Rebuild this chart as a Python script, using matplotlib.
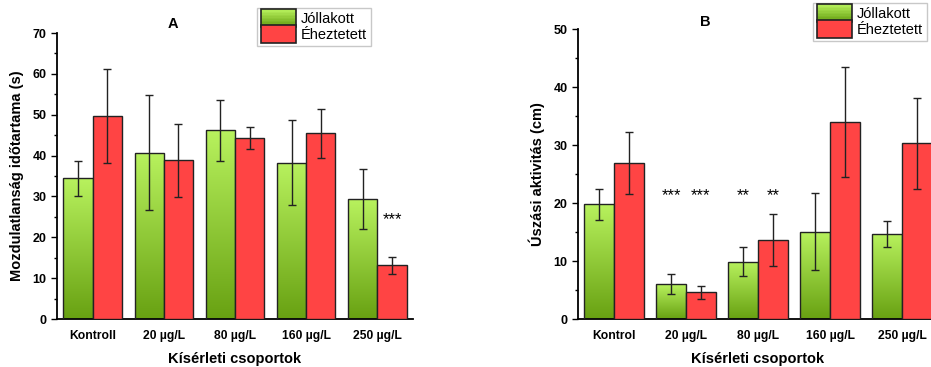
import matplotlib
matplotlib.use("Agg")
import matplotlib.pyplot as plt
import numpy as np
from matplotlib.colors import LinearSegmentedColormap
from matplotlib.patches import Rectangle
from matplotlib.legend_handler import HandlerBase
from matplotlib.ticker import MultipleLocator

plt.rcParams['font.family'] = ['Liberation Sans', 'DejaVu Sans']

series_names = ["Jóllakott", "Éheztetett"]

cats_a = ["Kontroll", "20 µg/L", "80 µg/L", "160 µg/L", "250 µg/L"]
fed_a = [34.4, 40.7, 46.2, 38.3, 29.3]
fed_a_err = [4.2, 14.1, 7.5, 10.4, 7.3]
starved_a = [49.7, 38.8, 44.4, 45.5, 13.1]
starved_a_err = [11.6, 9.0, 2.7, 6.0, 2.0]
stars_a = ["", "", "", "", "***"]          # over starved bars

cats_b = ["Kontrol", "20 µg/L", "80 µg/L", "160 µg/L", "250 µg/L"]
fed_b = [19.8, 6.0, 9.9, 15.1, 14.7]
fed_b_err = [2.7, 1.7, 2.5, 6.6, 2.2]
starved_b = [26.9, 4.6, 13.6, 34.0, 30.3]
starved_b_err = [5.3, 1.15, 4.5, 9.5, 7.9]
stars_b_fed = ["", "***", "**", "", ""]
stars_b_starved = ["", "***", "**", "", ""]

GREEN_TOP = "#b8f25e"
GREEN_BOT = "#68a112"
RED = "#ff4444"
gcmap = LinearSegmentedColormap.from_list("g", [GREEN_BOT, GREEN_TOP])

W = 0.41


def grad_bars(ax, x, h):
    bars = ax.bar(x, h, W, align="edge", facecolor="none", edgecolor="#222222",
                  linewidth=1.0, zorder=3)
    grad = np.linspace(0, 1, 256).reshape(-1, 1)
    for b in bars:
        x0, y0 = b.get_x(), b.get_y()
        w, hh = b.get_width(), b.get_height()
        im = ax.imshow(grad, cmap=gcmap, origin="lower", aspect="auto",
                       extent=(x0, x0 + w, y0, y0 + hh), zorder=2)
        im.set_clip_path(b)
    return bars


class GradHandler(HandlerBase):
    def create_artists(self, legend, orig_handle, xdescent, ydescent, width,
                       height, fontsize, trans):
        arts = []
        n = 12
        h = height + 4
        y0 = -ydescent - 2
        for i in range(n):
            c = gcmap(1 - i / (n - 1))
            r = Rectangle((-xdescent, y0 + h - (i + 1) * h / n), width, h / n,
                          facecolor=c, edgecolor="none", transform=trans)
            arts.append(r)
        arts.append(Rectangle((-xdescent, y0), width, h, facecolor="none",
                              edgecolor="#222222", linewidth=1.2, transform=trans))
        return arts


class RedHandler(HandlerBase):
    def create_artists(self, legend, orig_handle, xdescent, ydescent, width,
                       height, fontsize, trans):
        h = height + 4
        y0 = -ydescent - 2
        return [Rectangle((-xdescent, y0), width, h, facecolor=RED,
                          edgecolor="#222222", linewidth=1.2, transform=trans)]


def panel(ax, cats, fed, fed_err, st, st_err, ymax, ylabel, xlim_right):
    x = np.arange(len(cats))
    grad_bars(ax, x - W, fed)
    ax.bar(x, st, W, align="edge", color=RED, edgecolor="#222222",
           linewidth=1.0, zorder=3)
    ax.errorbar(x - W / 2, fed, yerr=fed_err, fmt="none", ecolor="#222222",
                elinewidth=1.0, capsize=2.6, capthick=1.0, zorder=4)
    ax.errorbar(x + W / 2, st, yerr=st_err, fmt="none", ecolor="#222222",
                elinewidth=1.0, capsize=2.6, capthick=1.0, zorder=4)
    ax.set_xlim(-0.5, xlim_right)
    ax.set_ylim(0, ymax)
    ax.set_xticks(x)
    ax.set_xticklabels(cats, fontsize=8.7, fontweight="bold")
    ax.tick_params(axis="x", length=0, pad=8)
    ax.yaxis.set_major_locator(MultipleLocator(10))
    ax.yaxis.set_minor_locator(MultipleLocator(5))
    ax.tick_params(axis="y", which="major", length=4, width=1.0, labelsize=9)
    ax.tick_params(axis="y", which="minor", length=2.5, width=1.0)
    for lab in ax.get_yticklabels():
        lab.set_fontweight("bold")
    ax.spines["top"].set_visible(False)
    ax.spines["right"].set_visible(False)
    ax.spines["left"].set_linewidth(1.3)
    ax.spines["bottom"].set_linewidth(1.3)
    ax.set_ylabel(ylabel, fontsize=10.5, fontweight="bold", labelpad=6)
    ax.set_xlabel("Kísérleti csoportok", fontsize=10.5, fontweight="bold",
                  labelpad=7)
    return x


fig = plt.figure(figsize=(9.31, 3.67), dpi=100)
axA = fig.add_axes([57 / 931, 1 - 319 / 367, (413 - 57) / 931, (319 - 33) / 367])
axB = fig.add_axes([578 / 931, 1 - 319 / 367, (938 - 578) / 931, (319 - 29.3) / 367])

xa = panel(axA, cats_a, fed_a, fed_a_err, starved_a, starved_a_err, 70,
           "Mozdulatlanság időtartama (s)", 4.5)
xb = panel(axB, cats_b, fed_b, fed_b_err, starved_b, starved_b_err, 50,
           "Úszási aktivitás (cm)", 4.5)

for i, s in enumerate(stars_a):
    if s:
        axA.text(xa[i] + W / 2, 24.3, s, ha="center", va="center", fontsize=12)
for i, s in enumerate(stars_b_fed):
    if s:
        axB.text(xb[i] - W / 2, 21.3, s, ha="center", va="center", fontsize=12)
for i, s in enumerate(stars_b_starved):
    if s:
        axB.text(xb[i] + W / 2, 21.3, s, ha="center", va="center", fontsize=12)

fig.text(173 / 931, 1 - 24 / 367, "A", ha="center", va="center",
         fontsize=10.5, fontweight="bold")
fig.text(705 / 931, 1 - 22 / 367, "B", ha="center", va="center",
         fontsize=10.5, fontweight="bold")

handles = [Rectangle((0, 0), 1, 1), Rectangle((0, 0), 1, 2)]
hmap = {handles[0]: GradHandler(), handles[1]: RedHandler()}
for ax, (lx, ly) in ((axA, (257, 8)), (axB, (813, 3))):
    leg = fig.legend(handles, series_names, handler_map=hmap,
                     loc="upper left", bbox_to_anchor=(lx / 931, 1 - ly / 367),
                     fontsize=10.5, frameon=True, fancybox=False,
                     edgecolor="#bbbbbb", borderpad=0.25, labelspacing=0.15,
                     handlelength=2.4, handleheight=0.9, handletextpad=0.35,
                     borderaxespad=0)
    leg.get_frame().set_linewidth(1.0)

fig.savefig("out.png", dpi=100)
